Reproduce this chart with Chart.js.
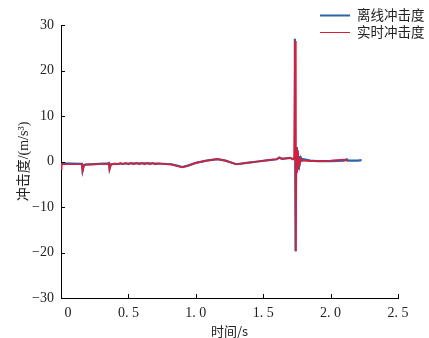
<!DOCTYPE html>
<html>
<head>
<meta charset="utf-8">
<script src="https://cdn.jsdelivr.net/npm/chart.js@4"></script>
<style>
  html, body { margin: 0; padding: 0; background: #fff; }
  canvas { display: block; }
</style>
</head>
<body>
<canvas id="jerkChart" width="429" height="338"></canvas>
<script>
// 离线冲击度 (blue)
const offlineT = [0, 0.15, 0.155, 0.16, 0.17, 0.18, 0.35, 0.355, 0.36, 0.37, 0.45, 0.55, 0.65, 0.75, 0.82, 0.86, 0.9, 0.94, 1.0, 1.08, 1.16, 1.22, 1.3, 1.38, 1.46, 1.54, 1.6, 1.62, 1.64, 1.7, 1.72, 1.73, 1.735, 1.74, 1.745, 1.75, 1.755, 1.76, 1.765, 1.77, 1.78, 1.79, 1.8, 1.85, 1.9, 2.0, 2.1, 2.12, 2.13, 2.2, 2.23];
const offlineJ = [-0.4, -0.5, -0.3, -2.0, -0.8, -0.7, -0.4, -0.1, -1.6, -0.6, -0.5, -0.4, -0.4, -0.5, -0.6, -0.9, -1.2, -0.9, -0.3, 0.2, 0.5, 0.2, -0.6, -0.3, 0.0, 0.3, 0.5, 0.9, 0.6, 0.8, 0.5, 0.8, 27.0, -19.7, 3.2, -2.3, 2.5, -1.5, 1.2, -0.6, 0.8, 0.2, 0.5, 0.2, 0.1, 0.1, 0.2, 0.5, 0.2, 0.2, 0.3];

// 实时冲击度 (red)
const realtimeT = [0, 0.005, 0.15, 0.155, 0.16, 0.17, 0.18, 0.35, 0.355, 0.36, 0.37, 0.40, 0.42, 0.44, 0.46, 0.48, 0.50, 0.52, 0.54, 0.56, 0.58, 0.60, 0.62, 0.64, 0.66, 0.68, 0.70, 0.72, 0.75, 0.82, 0.86, 0.9, 0.94, 1.0, 1.08, 1.16, 1.22, 1.3, 1.38, 1.46, 1.54, 1.6, 1.62, 1.64, 1.7, 1.72, 1.73, 1.736, 1.742, 1.746, 1.75, 1.754, 1.758, 1.762, 1.766, 1.77, 1.78, 1.79, 1.8, 1.85, 1.9, 2.0, 2.1, 2.12, 2.13, 2.16];
const realtimeJ = [-1.6, -0.6, -0.6, -0.4, -2.1, -0.9, -0.7, -0.5, -0.2, -1.7, -0.7, -0.4, -0.6, -0.3, -0.6, -0.3, -0.6, -0.3, -0.6, -0.3, -0.6, -0.3, -0.6, -0.3, -0.6, -0.3, -0.6, -0.4, -0.5, -0.7, -1.0, -1.3, -1.0, -0.3, 0.2, 0.5, 0.2, -0.6, -0.3, 0.0, 0.3, 0.5, 0.8, 0.6, 0.8, 0.5, 0.8, 26.5, -19.7, 3.0, -2.6, 2.2, -1.8, 1.0, -0.8, 0.6, 0.2, 0.5, 0.2, 0.1, 0.1, 0.2, 0.4, 0.2, 0.2];

const seriesLabels = ["离线冲击度", "实时冲击度"];
const xTickLabels = ["    0", "0. 5", "1. 0", "1. 5", "2. 0", "2. 5"];
const yTickLabels = ["\u221230", "\u221220", "\u221210", "0", "10", "20", "30"];

const toPoints = (ts, vs) => ts.map((t, i) => ({ x: t, y: vs[i] }));

const serif = '"Liberation Serif", "Noto Sans CJK SC", serif';
const cjk = '"Noto Sans CJK SC", "Liberation Serif", sans-serif';

// inward tick marks on the two axes
const innerTicks = {
    id: "innerTicks",
    afterDraw(chart) {
        const { ctx, chartArea, scales } = chart;
        ctx.save();
        ctx.strokeStyle = "#000";
        ctx.lineWidth = 1;
        ctx.beginPath();
        scales.x.ticks.forEach(t => {
            const px = Math.round(scales.x.getPixelForValue(t.value)) + 0.5;
            ctx.moveTo(px, chartArea.bottom);
            ctx.lineTo(px, chartArea.bottom - 4);
        });
        scales.y.ticks.forEach(t => {
            const py = Math.round(scales.y.getPixelForValue(t.value)) + 0.5;
            ctx.moveTo(chartArea.left, py);
            ctx.lineTo(chartArea.left + 4, py);
        });
        ctx.stroke();
        ctx.restore();
    }
};

// legend in the upper right corner
const cornerLegend = {
    id: "cornerLegend",
    afterDraw(chart) {
        const { ctx } = chart;
        ctx.save();
        ctx.font = '13.5px ' + cjk;
        ctx.textBaseline = "middle";
        chart.data.datasets.forEach((ds, i) => {
            const y = 15 + i * 17;
            ctx.strokeStyle = ds.borderColor;
            ctx.lineWidth = i === 0 ? 2 : 1;
            ctx.beginPath();
            ctx.moveTo(320, y + 0.5);
            ctx.lineTo(350, y + 0.5);
            ctx.stroke();
            ctx.fillStyle = "#222";
            ctx.fillText(ds.label, 357, y);
        });
        ctx.restore();
    }
};

new Chart(document.getElementById("jerkChart"), {
    type: "line",
    data: {
        datasets: [
            {
                label: seriesLabels[0],
                data: toPoints(offlineT, offlineJ),
                borderColor: "#2a64a6",
                borderWidth: 2.2,
                pointRadius: 0,
                tension: 0,
                order: 1
            },
            {
                label: seriesLabels[1],
                data: toPoints(realtimeT, realtimeJ),
                borderColor: "#d61f3c",
                borderWidth: 1.7,
                pointRadius: 0,
                tension: 0,
                order: 0
            }
        ]
    },
    options: {
        responsive: false,
        animation: false,
        devicePixelRatio: 1,
        layout: { padding: { top: 25, right: 31, left: 0, bottom: 0 } },
        plugins: {
            legend: { display: false },
            tooltip: { enabled: false }
        },
        scales: {
            x: {
                type: "linear",
                min: 0,
                max: 2.5,
                grid: { display: false, drawTicks: false },
                border: { display: true, color: "#000", width: 1 },
                ticks: {
                    stepSize: 0.5,
                    padding: 7,
                    maxRotation: 0,
                    color: "#222",
                    font: { family: serif, size: 14 },
                    callback: (v, i) => xTickLabels[i]
                },
                title: {
                    display: true,
                    text: "时间/s",
                    color: "#222",
                    font: { family: cjk, size: 13, lineHeight: 1 },
                    padding: { top: 0, bottom: 0 }
                },
                afterFit: s => { s.height = 40; }
            },
            y: {
                min: -30,
                max: 30,
                grid: { display: false, drawTicks: false },
                border: { display: true, color: "#000", width: 1 },
                ticks: {
                    stepSize: 10,
                    padding: 7,
                    color: "#222",
                    font: { family: serif, size: 14 },
                    callback: (v, i) => yTickLabels[i]
                },
                title: {
                    display: true,
                    text: "冲击度/(m/s³)",
                    color: "#222",
                    font: { family: serif, size: 14, lineHeight: 1.2 },
                    padding: { top: 16, bottom: 0 }
                },
                afterFit: s => { s.width = 61; }
            }
        }
    },
    plugins: [innerTicks, cornerLegend]
});
</script>
</body>
</html>
